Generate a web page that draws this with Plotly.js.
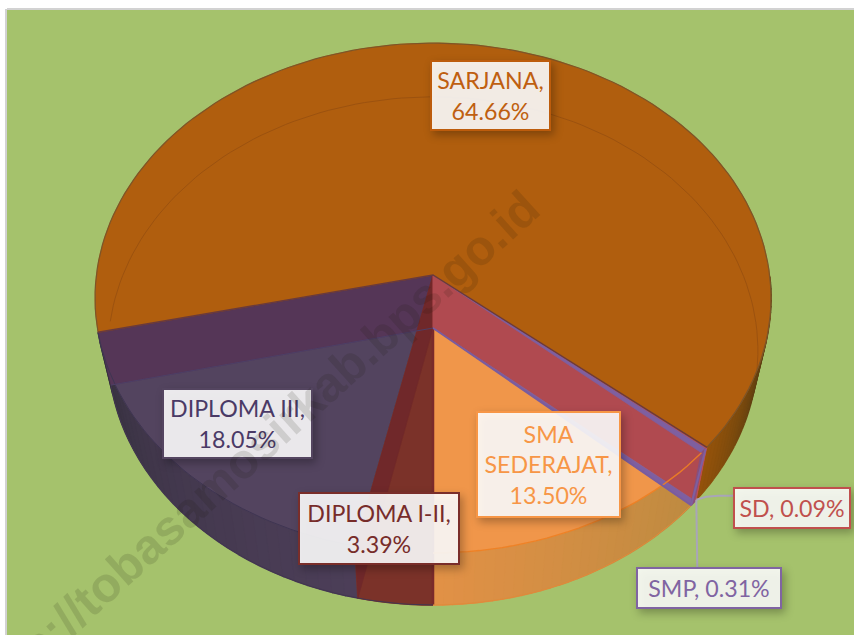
<!DOCTYPE html>
<html>
<head>
<meta charset="utf-8">
<script src="https://cdn.plot.ly/plotly-3.0.1.min.js"></script>
<style>html,body{margin:0;padding:0;background:#fff}#chart{width:854px;height:635px}</style>
</head>
<body>
<div id="chart"></div>
<script>
// Data, clockwise from the front of the pie
var categories = ['DIPLOMA I-II', 'DIPLOMA III', 'SARJANA', 'SD', 'SMP', 'SMA SEDERAJAT'];
var values = [3.39, 18.05, 64.66, 0.09, 0.31, 13.50];
var labelLines = [['DIPLOMA I-II,'], ['DIPLOMA III,'], ['SARJANA,'], ['SD,'], ['SMP,'], ['SMA', 'SEDERAJAT,']];
var watermark = 'https://tobasamosirkab.bps.go.id';

// Camera model of the tilted disc
var view = {cx: 433, k: 0.0902,
  top: {y: 275, a: 336.6, b: 252.9},
  bot: {y: 328, a: 323.6, b: 252}};

var edges = [0];
values.forEach(function (v) { edges.push(edges[edges.length - 1] + v); });

function pt(level, pct) {
  var t = pct / 100 * 2 * Math.PI, u = -Math.sin(t), v = -Math.cos(t), w = 1 + view.k * v;
  return [view.cx + level.a * u / w, level.y - level.b * v / w];
}
function arc(level, p0, p1) {
  var out = [], n = Math.max(2, Math.ceil(Math.abs(p1 - p0) * 2));
  for (var i = 0; i <= n; i++) out.push(pt(level, p0 + (p1 - p0) * i / n));
  return out;
}
// True when a screen point falls on the given percentage range of a level's face
function onFace(level, p, p0, p1) {
  var d = level.y - p[1], v = d / (level.b - view.k * d), u = (p[0] - view.cx) * (1 + view.k * v) / level.a;
  if (u * u + v * v > 1) return false;
  var pct = Math.atan2(-u, -v) / (2 * Math.PI) * 100;
  if (pct < 0) pct += 100;
  return pct >= p0 && pct <= p1;
}
function centre(level) { return [view.cx, level.y]; }
var traces = [];
function poly(points, fill, lineColor, lineWidth) {
  traces.push({type: 'scatter', mode: 'lines', x: points.map(function (p) { return p[0]; }),
    y: points.map(function (p) { return p[1]; }), fill: fill ? 'toself' : 'none',
    fillcolor: fill || undefined, line: {color: lineColor || fill, width: lineWidth === undefined ? 0.6 : lineWidth},
    hoverinfo: 'skip', showlegend: false});
}
function sector(level, p0, p1, fill) { poly([centre(level)].concat(arc(level, p0, p1), [centre(level)]), fill); }
function hex(c) { return [parseInt(c.slice(1, 3), 16), parseInt(c.slice(3, 5), 16), parseInt(c.slice(5, 7), 16)]; }
function mix(c0, c1, f) {
  var a = hex(c0), b = hex(c1);
  return 'rgb(' + [0, 1, 2].map(function (i) { return Math.round(a[i] + (b[i] - a[i]) * f); }).join(',') + ')';
}
function rim(p0, p1, c0, c1, n, curve) {
  for (var i = 0; i < n; i++) {
    var a = p0 + (p1 - p0) * i / n, b = p0 + (p1 - p0) * (i + 1) / n;
    var f = Math.pow((i + 0.5) / n, curve || 1), col = mix(c0, c1, f);
    poly(arc(view.top, a, b).concat(arc(view.bot, b, a)), col, col, 1.6);
  }
}
function wall(p, fill) {
  poly([centre(view.top), pt(view.top, p), pt(view.bot, p), centre(view.bot), centre(view.top)], fill);
}
var e = edges;

// DIPLOMA III
rim(e[2], e[1], '#2c2a33', '#4c3e58', 30, 0.45);
sector(view.top, e[1], e[2], '#53445f');
wall(e[2], '#553657');
// SMA SEDERAJAT
rim(e[5], e[6], '#bd8a40', '#e29146', 30);
sector(view.top, e[5], e[6], '#f0964a');
// DIPLOMA I-II
rim(e[0], e[1], '#7b3229', '#7b3229', 1);
sector(view.top, e[0], e[1], '#7b3229');
sector(view.bot, e[0], e[1], '#7b3229');
wall(e[1], '#70282a');
poly([centre(view.top), pt(view.bot, e[0])], null, '#7a2a2a', 2.5);
// SARJANA rim, right side
rim(e[3] - 11, e[3], '#3a3216', '#94530a', 30, 1);
// SD / SMP end faces
wall(e[3], '#b04a50');
wall(e[4], '#b04a50');
sector(view.bot, e[4], e[5], '#7e5fa0');
sector(view.top, e[3], e[4], '#c0504d');
sector(view.top, e[4], e[5], '#7e5fa0');
rim(e[3], e[4], '#c0504d', '#c0504d', 1);
rim(e[4], e[5], '#8a4f7a', '#8a4f7a', 1);
poly(arc(view.top, e[5], e[6]), null, 'rgba(238,127,34,0.9)', 1.4);
poly(arc(view.bot, e[5], e[6]), null, '#e08a3a', 1);
poly(arc(view.top, e[1], e[2]), null, '#3f3552', 1);
poly(arc(view.bot, e[0], e[2]), null, '#423650', 1);
poly([centre(view.bot), pt(view.bot, e[5])], null, '#7a5c9e', 2);
poly([centre(view.bot), pt(view.bot, e[2])], null, '#4d3f66', 1);
poly([pt(view.top, e[4]), pt(view.bot, e[5])], null, '#7e5fa0', 2);
// SARJANA top face
sector(view.top, e[2], e[3], '#b05e0e');
poly(arc(view.bot, e[2], e[3]).filter(function (p) { return onFace(view.top, p, e[2] + 0.1, e[3] - 0.1); }), null, '#9c520e', 1);
poly(arc(view.top, e[2], e[3]), null, '#7d5528', 1.2);
poly([pt(view.top, e[2]), centre(view.top), pt(view.top, e[3])], null, '#6a3a3c', 1.4);
// Leader lines
var tip = pt(view.bot, e[3]);
poly([tip, [tip[0] + 10, tip[1] - 3], [tip[0] + 22, tip[1] - 4], [734, tip[1] - 4]], null, '#a9a5b8', 2);
poly([tip, [tip[0] + 1, 568]], null, '#a9a5b8', 2);

var labelFont = 'Lato, Carlito, "Open Sans", sans-serif';
var boxes = [
  {i: 0, x: 379, y: 528.5, w: 162, h: 73, c: '#772c2a', b: '#7a2e2a', bg: 'rgba(255,255,255,0.89)'},
  {i: 1, x: 237.5, y: 423.5, w: 151, h: 71, c: '#4a3a66', b: '#544560', bg: 'rgba(255,255,255,0.89)'},
  {i: 2, x: 490.5, y: 95.5, w: 121, h: 71, c: '#bf5f10', b: '#bd5c0c', bg: 'rgba(255,255,255,0.89)'},
  {i: 3, x: 792, y: 508, w: 118, h: 42, c: '#c0504d', b: '#c0504d', bg: 'rgba(255,255,255,0.87)'},
  {i: 4, x: 709, y: 588, w: 146, h: 42, c: '#8064a2', b: '#8064a2', bg: 'rgba(255,255,255,0.87)'},
  {i: 5, x: 548.5, y: 464.5, w: 145, h: 107, c: '#f79646', b: '#f79646', bg: 'rgba(255,255,255,0.89)'}
];
var annotations = boxes.map(function (d) {
  var lines = labelLines[d.i].slice(), pct = values[d.i].toFixed(2) + '%';
  var oneLine = categories[d.i] === 'SD' || categories[d.i] === 'SMP';
  var text = oneLine ? lines[0] + ' ' + pct : lines.concat([pct]).join('<br>');
  return {xref: 'x', yref: 'y', x: d.x, y: d.y, xanchor: 'center', yanchor: 'middle', showarrow: false,
    text: text, align: 'center', width: d.w - 4, height: d.h - 4, borderpad: 0, borderwidth: 2,
    bordercolor: d.b, bgcolor: d.bg, font: {family: labelFont, size: 23.2, color: d.c}};
});
annotations.push({xref: 'x', yref: 'y', x: 245, y: 458, showarrow: false, text: '<b>' + watermark + '</b>',
  textangle: -42, font: {family: '"Liberation Sans", Arial, sans-serif', size: 49, color: 'rgba(20,20,10,0.13)'}});

var axis = {showgrid: false, zeroline: false, showticklabels: false, ticks: '', fixedrange: true,
  showline: true, linecolor: '#d2d2d2', linewidth: 2};
var layout = {
  width: 854, height: 635, margin: {l: 7, r: 0, t: 9, b: 0},
  paper_bgcolor: '#ffffff', plot_bgcolor: '#a5c26c', showlegend: false,
  xaxis: Object.assign({range: [7, 854], side: 'bottom'}, axis, {showline: false}),
  yaxis: Object.assign({range: [635, 9]}, axis),
  shapes: [{type: 'line', xref: 'paper', yref: 'paper', x0: 0, x1: 1, y0: 1, y1: 1, line: {color: '#d2d2d2', width: 2}}],
  annotations: annotations
};
Plotly.newPlot('chart', traces, layout, {displayModeBar: false, staticPlot: true}).then(function () {
  document.querySelectorAll('.annotation').forEach(function (g, i) {
    if (i < boxes.length) {
      var r = g.querySelector('rect.bg');
      if (r) r.style.filter = 'drop-shadow(3px 4px 4px rgba(0,0,0,0.3))';
    }
  });
});
</script>
</body>
</html>
